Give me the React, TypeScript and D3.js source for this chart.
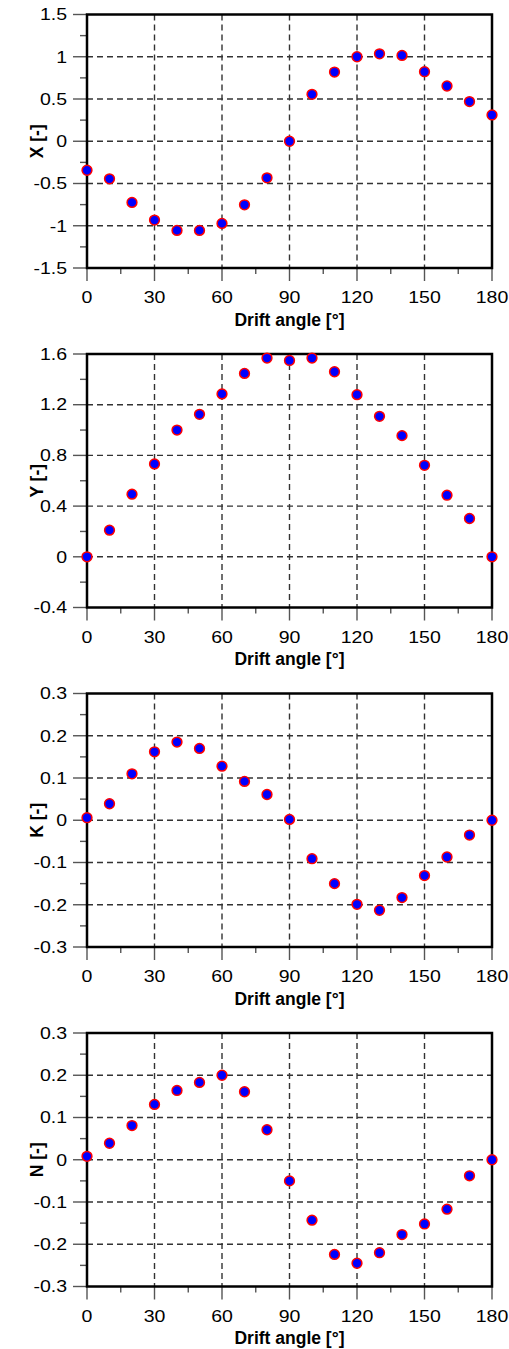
import React from "react";
import * as d3 from "d3";

const driftAngles = [0, 10, 20, 30, 40, 50, 60, 70, 80, 90, 100, 110, 120, 130, 140, 150, 160, 170, 180];
const xValues = [-0.343, -0.445, -0.724, -0.933, -1.055, -1.055, -0.972, -0.752, -0.433, 0.0, 0.555, 0.819, 1.0, 1.035, 1.016, 0.823, 0.654, 0.469, 0.311];
const yValues = [0.0, 0.21, 0.494, 0.733, 1.0, 1.124, 1.285, 1.447, 1.568, 1.549, 1.568, 1.46, 1.279, 1.108, 0.956, 0.722, 0.486, 0.302, 0.0];
const kValues = [0.006, 0.039, 0.11, 0.162, 0.185, 0.17, 0.128, 0.092, 0.061, 0.002, -0.091, -0.15, -0.199, -0.213, -0.183, -0.131, -0.087, -0.035, 0.0];
const nValues = [0.008, 0.039, 0.081, 0.131, 0.164, 0.183, 0.2, 0.161, 0.071, -0.05, -0.143, -0.224, -0.245, -0.22, -0.177, -0.152, -0.117, -0.038, 0.0];

const xTickValues = [0, 30, 60, 90, 120, 150, 180];
const xTickLabels = ["0", "30", "60", "90", "120", "150", "180"];
const xMinorTicks = [15, 45, 75, 105, 135, 165];

const panelLabels = ["X [-]", "Y [-]", "K [-]", "N [-]"];
const panelDomains: [number, number][] = [[-1.5, 1.5], [-0.4, 1.6], [-0.3, 0.3], [-0.3, 0.3]];
const panelMajor = [
  [-1.5, -1, -0.5, 0, 0.5, 1, 1.5],
  [-0.4, 0, 0.4, 0.8, 1.2, 1.6],
  [-0.3, -0.2, -0.1, 0, 0.1, 0.2, 0.3],
  [-0.3, -0.2, -0.1, 0, 0.1, 0.2, 0.3],
];
const panelMajorLabels = [
  ["-1.5", "-1", "-0.5", "0", "0.5", "1", "1.5"],
  ["-0.4", "0", "0.4", "0.8", "1.2", "1.6"],
  ["-0.3", "-0.2", "-0.1", "0", "0.1", "0.2", "0.3"],
  ["-0.3", "-0.2", "-0.1", "0", "0.1", "0.2", "0.3"],
];
const panelMinor = [
  [-1.25, -0.75, -0.25, 0.25, 0.75, 1.25],
  [-0.2, 0.2, 0.6, 1.0, 1.4],
  [-0.25, -0.15, -0.05, 0.05, 0.15, 0.25],
  [-0.25, -0.15, -0.05, 0.05, 0.15, 0.25],
];
const panelSeries = [xValues, yValues, kValues, nValues];

const W = 509;
const H = 1349;
const left = 87;
const right = 492;
const panelTops = [14.5, 354, 693.5, 1033];
const plotH = 253.5;
const font = "'Liberation Sans', Arial, sans-serif";
const tickScaleX = 1.22;

function Panel({ idx }: { idx: number }) {
  const top = panelTops[idx];
  const bottom = top + plotH;
  const x = d3.scaleLinear().domain([0, 180]).range([left, right]);
  const y = d3.scaleLinear().domain(panelDomains[idx]).range([bottom, top]);
  const major = panelMajor[idx];
  const labels = panelMajorLabels[idx];
  const [dmin, dmax] = panelDomains[idx];
  const vals = panelSeries[idx];
  return (
    <g>
      {major.filter((v) => v > dmin + 1e-9 && v < dmax - 1e-9).map((v, i) => (
        <line key={"hg" + i} x1={left} x2={right} y1={y(v)} y2={y(v)} stroke="#333" strokeWidth={1.4} strokeDasharray="6,4" />
      ))}
      {xTickValues.filter((v) => v > 0 && v < 180).map((v, i) => (
        <line key={"vg" + i} x1={x(v)} x2={x(v)} y1={top} y2={bottom} stroke="#333" strokeWidth={1.4} strokeDasharray="6,4" />
      ))}
      {major.map((v, i) => (
        <line key={"ym" + i} x1={left - 14} x2={left} y1={y(v)} y2={y(v)} stroke="#555" strokeWidth={1.4} />
      ))}
      {panelMinor[idx].map((v, i) => (
        <line key={"yn" + i} x1={left - 7} x2={left} y1={y(v)} y2={y(v)} stroke="#555" strokeWidth={1.4} />
      ))}
      {major.map((v, i) => (
        <text
          key={"yl" + i}
          transform={`translate(${left - 20},${y(v)}) scale(${tickScaleX},1)`}
          dy="0.36em"
          textAnchor="end"
          fontFamily={font}
          fontSize={16}
          fill="#000"
        >
          {labels[i]}
        </text>
      ))}
      {xTickValues.map((v, i) => (
        <line key={"xm" + i} x1={x(v)} x2={x(v)} y1={bottom} y2={bottom + 13} stroke="#555" strokeWidth={1.4} />
      ))}
      {xMinorTicks.map((v, i) => (
        <line key={"xn" + i} x1={x(v)} x2={x(v)} y1={bottom} y2={bottom + 6} stroke="#555" strokeWidth={1.4} />
      ))}
      {xTickValues.map((v, i) => (
        <text
          key={"xl" + i}
          transform={`translate(${x(v)},${bottom + 35}) scale(${tickScaleX},1)`}
          textAnchor="middle"
          fontFamily={font}
          fontSize={16}
          fill="#000"
        >
          {xTickLabels[i]}
        </text>
      ))}
      <text x={(left + right) / 2} y={bottom + 57.5} textAnchor="middle" fontFamily={font} fontSize={17.5} fontWeight="bold" fill="#000">
        Drift angle [°]
      </text>
      <text
        transform={`translate(43,${(top + bottom) / 2}) rotate(-90)`}
        textAnchor="middle"
        fontFamily={font}
        fontSize={17.5}
        fontWeight="bold"
        fill="#000"
      >
        {panelLabels[idx]}
      </text>
      <rect x={left} y={top} width={right - left} height={plotH} fill="none" stroke="#000" strokeWidth={2.5} />
      {vals.map((v, i) => (
        <circle key={"p" + i} cx={x(driftAngles[i])} cy={y(v)} r={4.9} fill="#0000ff" stroke="#ff0000" strokeWidth={1.5} />
      ))}
    </g>
  );
}

export default function App() {
  return (
    <svg width={W} height={H} style={{ position: "absolute", left: 0, top: 0, background: "#fff" }}>
      <rect x={0} y={0} width={W} height={H} fill="#fff" />
      {[0, 1, 2, 3].map((i) => (
        <Panel key={i} idx={i} />
      ))}
    </svg>
  );
}
